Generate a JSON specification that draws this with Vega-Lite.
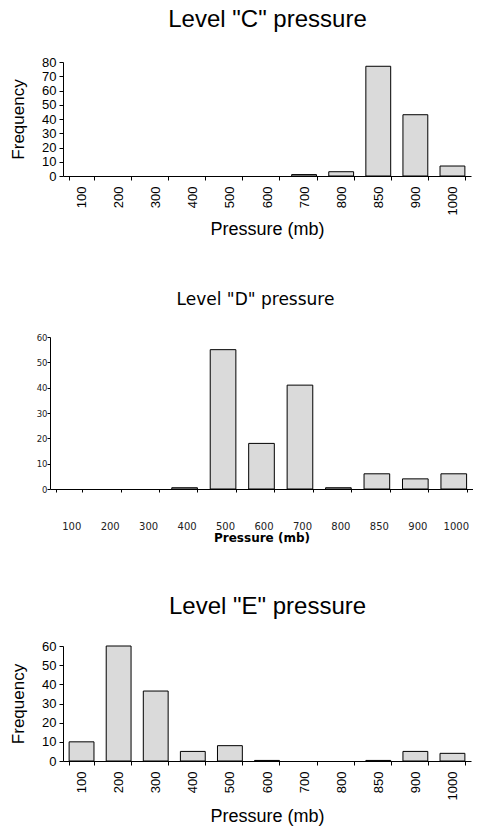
{
  "$schema": "https://vega.github.io/schema/vega-lite/v6.json",
  "background": "white",
  "padding": {"left": 9, "top": 8, "right": 0, "bottom": 0},
  "spacing": 52,
  "config": {
    "view": {"stroke": null},
    "axis": {"domainColor": "black", "tickColor": "black", "labelColor": "black", "titleColor": "black", "grid": false, "titleFontWeight": "normal", "domainWidth": 1, "tickWidth": 1},
    "title": {"color": "black", "fontWeight": "normal"}
  },
  "datasets": {
    "C": [
      {"pressure": "700", "freq": 1},
      {"pressure": "800", "freq": 3},
      {"pressure": "850", "freq": 77},
      {"pressure": "900", "freq": 43},
      {"pressure": "1000", "freq": 7}
    ],
    "D": [
      {"pressure": "400", "freq": 0.5},
      {"pressure": "500", "freq": 55},
      {"pressure": "600", "freq": 18},
      {"pressure": "700", "freq": 41},
      {"pressure": "800", "freq": 0.5},
      {"pressure": "850", "freq": 6},
      {"pressure": "900", "freq": 4},
      {"pressure": "1000", "freq": 6}
    ],
    "E": [
      {"pressure": "100", "freq": 10},
      {"pressure": "200", "freq": 60},
      {"pressure": "300", "freq": 36.5},
      {"pressure": "400", "freq": 5},
      {"pressure": "500", "freq": 8},
      {"pressure": "600", "freq": 0.3},
      {"pressure": "850", "freq": 0.3},
      {"pressure": "900", "freq": 5},
      {"pressure": "1000", "freq": 4}
    ]
  },
  "vconcat": [
    {
      "data": {"name": "C"},
      "title": {"text": "Level \"C\" pressure", "font": "Liberation Sans", "fontSize": 24, "offset": 24, "dx": 7},
      "width": 421,
      "height": 114,
      "mark": {"type": "bar", "fill": "#dadada", "stroke": "black", "strokeWidth": 1},
      "encoding": {
        "x": {
          "field": "pressure", "type": "ordinal",
          "scale": {"domain": ["100", "200", "300", "400", "500", "600", "700", "800", "850", "900", "1000"], "range": [13, 421], "paddingInner": 0.33, "paddingOuter": 0.165},
          "axis": {"title": "Pressure (mb)", "labelAngle": -90, "labelFont": "Liberation Sans", "labelFontSize": 13, "tickBand": "extent", "tickSize": 4, "labelPadding": 6, "titleFont": "Liberation Sans", "titleFontSize": 18, "titlePadding": 6}
        },
        "y": {
          "field": "freq", "type": "quantitative",
          "scale": {"domain": [0, 80]},
          "axis": {"title": "Frequency", "offset": -13, "values": [0, 10, 20, 30, 40, 50, 60, 70, 80], "labelFont": "Liberation Sans", "labelFontSize": 13, "tickSize": 4, "labelPadding": 3, "minExtent": 23, "labelFlush": false, "labelOverlap": false, "titleFont": "Liberation Sans", "titleFontSize": 17, "titlePadding": 13}
        }
      }
    },
    {
      "data": {"name": "D"},
      "title": {"text": "Level \"D\" pressure", "font": "DejaVu Sans", "fontSize": 17, "offset": 24, "dx": -6},
      "width": 423,
      "height": 152,
      "mark": {"type": "bar", "fill": "#dadada", "stroke": "black", "strokeWidth": 1},
      "encoding": {
        "x": {
          "field": "pressure", "type": "ordinal",
          "scale": {"domain": ["100", "200", "300", "400", "500", "600", "700", "800", "850", "900", "1000"], "paddingInner": 0.333, "paddingOuter": 0.1665},
          "axis": {
            "title": "Pressure (mb)", "labelAngle": 0, "labelFont": "DejaVu Sans", "labelFontSize": 10, "labelColor": "#222", "labelBaseline": "top",
            "tickBand": "extent", "tickSize": 3, "labelPadding": 29, "labelOffset": 2,
            "titleFont": "DejaVu Sans", "titleFontSize": 12, "titleFontWeight": "bold", "titlePadding": 1, "maxExtent": 43,
            "encode": {"labels": {"update": {"dx": {"signal": "datum.value == '1000' ? 8 : 0"}, "dy": {"signal": "datum.value == '1000' ? 7 : 0"}}}}
          }
        },
        "y": {
          "field": "freq", "type": "quantitative",
          "scale": {"domain": [0, 60]},
          "axis": {"title": null, "values": [0, 10, 20, 30, 40, 50, 60], "labelFont": "DejaVu Sans", "labelFontSize": 8.5, "labelColor": "#222", "tickSize": 3, "labelPadding": 0, "minExtent": 20, "labelFlush": false, "labelOverlap": false}
        }
      }
    },
    {
      "data": {"name": "E"},
      "title": {"text": "Level \"E\" pressure", "font": "Liberation Sans", "fontSize": 24, "offset": 21, "dx": 7},
      "width": 421,
      "height": 115,
      "mark": {"type": "bar", "fill": "#dadada", "stroke": "black", "strokeWidth": 1},
      "encoding": {
        "x": {
          "field": "pressure", "type": "ordinal",
          "scale": {"domain": ["100", "200", "300", "400", "500", "600", "700", "800", "850", "900", "1000"], "range": [13, 421], "paddingInner": 0.33, "paddingOuter": 0.165},
          "axis": {"title": "Pressure (mb)", "labelAngle": -90, "labelFont": "Liberation Sans", "labelFontSize": 13, "tickBand": "extent", "tickSize": 4, "labelPadding": 6, "titleFont": "Liberation Sans", "titleFontSize": 18, "titlePadding": 8}
        },
        "y": {
          "field": "freq", "type": "quantitative",
          "scale": {"domain": [0, 60]},
          "axis": {"title": "Frequency", "offset": -13, "values": [0, 10, 20, 30, 40, 50, 60], "labelFont": "Liberation Sans", "labelFontSize": 13, "tickSize": 4, "labelPadding": 3, "minExtent": 23, "labelFlush": false, "labelOverlap": false, "titleFont": "Liberation Sans", "titleFontSize": 17, "titlePadding": 13}
        }
      }
    }
  ]
}
